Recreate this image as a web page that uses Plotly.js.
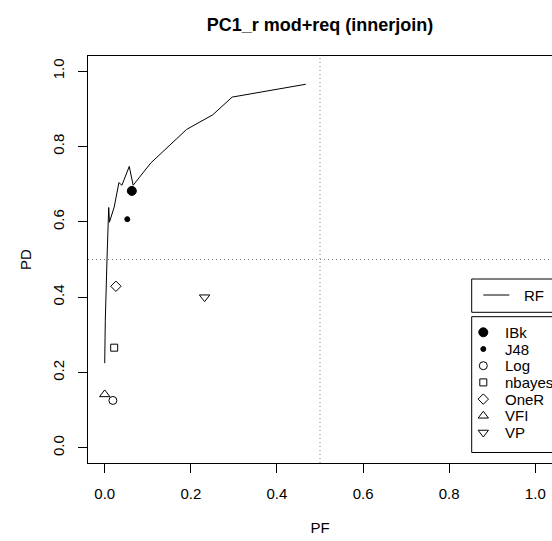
<!DOCTYPE html>
<html>
<head>
<meta charset="utf-8">
<script src="https://cdn.plot.ly/plotly-3.0.1.min.js"></script>
<style>html,body{margin:0;padding:0;background:#fff;}#chart{width:552px;height:541px;}</style>
</head>
<body>
<div id="chart"></div>
<script>
// RF curve (PF, PD)
const rfPF = [0, 0.0014, 0.0053, 0.007, 0.0093, 0.011, 0.022, 0.033, 0.040, 0.057, 0.066, 0.107, 0.190, 0.251, 0.296, 0.467];
const rfPD = [0.225, 0.339, 0.500, 0.577, 0.638, 0.599, 0.639, 0.704, 0.697, 0.747, 0.697, 0.756, 0.845, 0.884, 0.931, 0.965];

// Learners (single points)
const learners = ["IBk", "J48", "Log", "nbayes", "OneR", "VFI", "VP"];
const learnerPF = [0.063, 0.0525, 0.019, 0.022, 0.026, 0.0, 0.232];
const learnerPD = [0.682, 0.607, 0.126, 0.266, 0.429, 0.142, 0.400];

const thresholdPF = 0.5;
const thresholdPD = 0.5;
const xTicks = [0, 0.2, 0.4, 0.6, 0.8, 1.0];
const xTickText = ["0.0", "0.2", "0.4", "0.6", "0.8", "1.0"];
const yTicks = [0, 0.2, 0.4, 0.6, 0.8, 1.0];
const yTickText = ["0.0", "0.2", "0.4", "0.6", "0.8", "1.0"];

const symbols = ["circle", "circle", "circle-open", "square-open", "diamond-open", "triangle-up-open", "triangle-down-open"];
const sizes = [9, 5, 8, 7, 8, 9, 9];

const FONT = "Liberation Sans, Arial, Helvetica, sans-serif";

// geometry (pixels)
const plotL = 88, plotT = 56, plotW = 464, plotH = 407;
const legAxL = 468, legAxR = 552, legAxT = 270, legAxB = 460;
const boxL = 471.7;
const rfBox = [279, 312.3], rfY = 295, rfLine = [483.3, 509.3], rfTextX = 521.7;
const lBox = [316.7, 452.5], rowStart = 332.3, rowGap = 16.7, symX = 483.3, textX = 503.3;
const rowY = learners.map((_, i) => rowStart + i * rowGap);

const traces = [{
  x: rfPF, y: rfPD, type: "scatter", mode: "lines", name: "RF",
  line: {color: "black", width: 1}, showlegend: false
}];
learners.forEach((n, i) => {
  traces.push({
    x: [learnerPF[i]], y: [learnerPD[i]], type: "scatter", mode: "markers", name: n,
    marker: {symbol: symbols[i], size: sizes[i], color: "black", line: {color: "black", width: 1}},
    showlegend: false
  });
});
// legend symbols (drawn on an overlay axis in pixel units)
learners.forEach((n, i) => {
  traces.push({
    x: [symX], y: [rowY[i]], xaxis: "x2", yaxis: "y2", type: "scatter", mode: "markers", name: n + " key",
    marker: {symbol: symbols[i], size: sizes[i], color: "black", line: {color: "black", width: 1}},
    showlegend: false, cliponaxis: false
  });
});

const annotations = [{
  xref: "x2", yref: "y2", x: rfTextX, y: rfY, xanchor: "left", yanchor: "middle",
  text: "RF", showarrow: false, font: {family: FONT, size: 15, color: "black"}
}];
learners.forEach((n, i) => annotations.push({
  xref: "x2", yref: "y2", x: textX, y: rowY[i], xanchor: "left", yanchor: "middle",
  text: n, showarrow: false, font: {family: FONT, size: 15, color: "black"}
}));

const layout = {
  width: 552, height: 541,
  margin: {l: plotL, r: 0, t: plotT, b: 541 - plotT - plotH, autoexpand: false},
  paper_bgcolor: "white", plot_bgcolor: "rgba(0,0,0,0)",
  font: {family: FONT, size: 15, color: "black"},
  showlegend: false,
  title: {text: "<b>PC1_r mod+req (innerjoin)</b>", font: {family: FONT, size: 18, color: "black"},
          x: 320 / 552, xanchor: "center", y: 1 - 25 / 541, yanchor: "middle", xref: "container", yref: "container"},
  xaxis: {
    range: [-0.0388, 1.0388], tickvals: xTicks, ticktext: xTickText,
    showgrid: false, zeroline: false, showline: true, mirror: true, linecolor: "black", linewidth: 1,
    ticks: "outside", ticklen: 9, tickcolor: "black", tickwidth: 1, ticklabelstandoff: 8,
    title: {text: "PF", font: {size: 15}, standoff: 21}, automargin: false
  },
  yaxis: {
    range: [-0.04, 1.04], tickvals: yTicks, ticktext: yTickText, tickangle: -90,
    showgrid: false, zeroline: false, showline: true, mirror: true, linecolor: "black", linewidth: 1,
    ticks: "outside", ticklen: 9, tickcolor: "black", tickwidth: 1, ticklabelstandoff: 8,
    title: {text: "PD", font: {size: 15}, standoff: 14}, automargin: false
  },
  xaxis2: {domain: [(legAxL - plotL) / plotW, (legAxR - plotL) / plotW], range: [legAxL, legAxR],
           anchor: "y2", visible: false, fixedrange: true},
  yaxis2: {domain: [1 - (legAxB - plotT) / plotH, 1 - (legAxT - plotT) / plotH], range: [legAxB, legAxT],
           anchor: "x2", visible: false, fixedrange: true},
  shapes: [
    {type: "line", xref: "x", yref: "paper", x0: thresholdPF, x1: thresholdPF, y0: 0, y1: 1,
     line: {color: "#808080", width: 1, dash: "1px,3px"}},
    {type: "line", xref: "paper", yref: "y", x0: 0, x1: 1, y0: thresholdPD, y1: thresholdPD,
     line: {color: "#808080", width: 1, dash: "1px,3px"}},
    {type: "rect", xref: "x2", yref: "y2", x0: boxL, x1: legAxR + 10, y0: rfBox[0], y1: rfBox[1],
     line: {color: "black", width: 1}, fillcolor: "white", layer: "below"},
    {type: "line", xref: "x2", yref: "y2", x0: rfLine[0], x1: rfLine[1], y0: rfY, y1: rfY,
     line: {color: "black", width: 1}},
    {type: "rect", xref: "x2", yref: "y2", x0: boxL, x1: legAxR + 10, y0: lBox[0], y1: lBox[1],
     line: {color: "black", width: 1}, fillcolor: "white", layer: "below"}
  ],
  annotations: annotations
};

Plotly.newPlot("chart", traces, layout, {staticPlot: true, displayModeBar: false});
</script>
</body>
</html>
